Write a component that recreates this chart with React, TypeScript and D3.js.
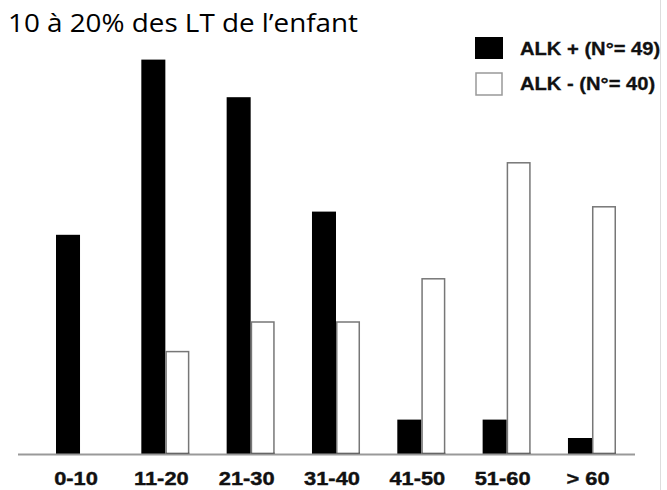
import React from "react";
import * as d3 from "d3";

const categories = ["0-10", "11-20", "21-30", "31-40", "41-50", "51-60", "> 60"];
const alkPos = [27.4, 49.3, 44.6, 30.3, 4.3, 4.3, 2.0];
const alkNeg = [0, 12.8, 16.5, 16.5, 21.9, 36.4, 30.9];
const seriesNames = ["ALK + (N°= 49)", "ALK - (N°= 40)"];
const title = "10 à 20% des LT de l’enfant";

const W = 667;
const H = 490;

export default function App() {
  const baseY = 454;
  const x = d3
    .scaleBand<string>()
    .domain(categories)
    .range([56, 616])
    .paddingInner(0.437)
    .paddingOuter(0);
  const sub = d3.scaleBand<number>().domain([0, 1]).range([0, x.bandwidth()]);
  const y = d3.scaleLinear().domain([0, 50]).range([baseY, 54]);

  return (
    <svg
      width={W}
      height={H}
      style={{ position: "absolute", left: 0, top: 0, background: "#fff" }}
    >
      <rect x={0} y={0} width={W} height={H} fill="#fff" />
      <text
        x={8}
        y={32}
        fontFamily="'Open Sans', Lato, sans-serif"
        fontSize={26}
        textLength={350}
        lengthAdjust="spacingAndGlyphs"
        fill="#000"
      >
        {title}
      </text>

      {/* bars */}
      {categories.map((c, i) => {
        const gx = x(c) as number;
        const w = sub.bandwidth();
        return (
          <g key={c}>
            {alkPos[i] > 0 && (
              <rect
                x={gx + (sub(0) as number)}
                y={y(alkPos[i])}
                width={w}
                height={baseY - y(alkPos[i])}
                fill="#000"
              />
            )}
            {alkNeg[i] > 0 && (
              <rect
                x={gx + (sub(1) as number) + 0.75}
                y={y(alkNeg[i])}
                width={w - 1.5}
                height={baseY - y(alkNeg[i])}
                fill="#fff"
                stroke="#777"
                strokeWidth={1.5}
              />
            )}
            {alkNeg[i] > 0 && (
              <line
                x1={gx + (sub(1) as number)}
                x2={gx + (sub(1) as number) + w}
                y1={baseY - 0.5}
                y2={baseY - 0.5}
                stroke="#333"
                strokeWidth={1.5}
              />
            )}
          </g>
        );
      })}

      {/* axis baseline */}
      <line x1={18} x2={635} y1={baseY + 0.5} y2={baseY + 0.5} stroke="#999" strokeWidth={2} />

      {/* category labels */}
      {categories.map((c) => {
        const cx = (x(c) as number) + x.bandwidth() / 2 - 4;
        return (
          <text
            key={c}
            transform={`translate(${cx},485) scale(1.15,1)`}
            textAnchor="middle"
            fontFamily="'Liberation Sans', Arial, sans-serif"
            fontWeight="bold"
            fontSize={19}
            fill="#111"
            stroke="#111"
            strokeWidth={0.4}
          >
            {c}
          </text>
        );
      })}

      {/* legend */}
      <rect x={475} y={37} width={28} height={22} fill="#000" />
      <rect x={476} y={73} width={26} height={22} fill="#fff" stroke="#999" strokeWidth={1.5} />
      {seriesNames.map((s, i) => (
        <text
          key={s}
          transform={`translate(520,${55 + i * 35}) scale(1.12,1)`}
          fontFamily="'Liberation Sans', Arial, sans-serif"
          fontWeight="bold"
          fontSize={18}
          fill="#111"
          stroke="#111"
          strokeWidth={0.3}
        >
          {s}
        </text>
      ))}

      {/* right border line */}
      <rect x={660} y={0} width={7} height={H} fill="#fff" />
      <line x1={660.5} x2={660.5} y1={0} y2={H} stroke="#ddd" strokeWidth={1} />
    </svg>
  );
}
